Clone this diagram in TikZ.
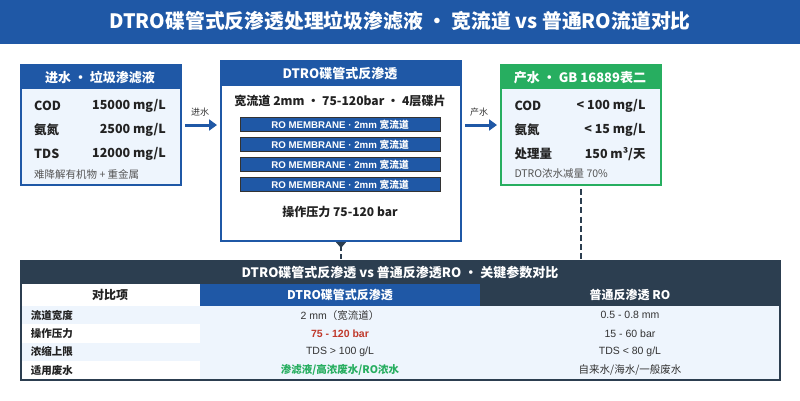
\documentclass[tikz,border=0pt]{standalone}
\usepackage{fontspec}
\setmainfont{Noto Sans CJK SC}
\newfontfamily\arial{Liberation Sans}
\usetikzlibrary{arrows.meta}
\definecolor{bblue}{HTML}{1F58A6}
\definecolor{ggreen}{HTML}{27AE60}
\definecolor{dslate}{HTML}{2C3E50}
\definecolor{lfill}{HTML}{EEF5FD}
\definecolor{txt}{HTML}{222222}
\definecolor{gtxt}{HTML}{555555}
\definecolor{vtxt}{HTML}{333333}
\definecolor{rred}{HTML}{C0392B}
\newcommand\fsz[1]{\fontsize{#1}{#1}\selectfont}
\tikzset{
  panel/.style={draw=#1, line width=2pt, anchor=north west, inner sep=0pt},
  rowlab/.style={anchor=west, text=txt, font=\fsz{12.5}\bfseries, inner sep=0pt},
  rowval/.style={anchor=east, text=txt, font=\fsz{12.5}\bfseries, inner sep=0pt},
  note/.style={anchor=west, text=gtxt, font=\fsz{10.5}, inner sep=0pt},
  hdr/.style={text=white, font=\fsz{13}\bfseries, inner sep=0pt},
  membr/.style={fill=bblue, draw=vtxt, line width=1pt, minimum width=200pt, minimum height=14pt, inner sep=0pt, text=white, font=\fsz{9.7}\bfseries},
  conn/.style={bblue, line width=3pt, -{Triangle[length=8pt,width=11pt]}, shorten <=3pt, shorten >=3pt},
  clab/.style={text=vtxt, font=\fsz{9}, inner sep=0pt},
  tlab/.style={anchor=west, text=txt, font=\fsz{10.5}\bfseries, inner sep=0pt},
  tval/.style={text=vtxt, font=\fsz{10.5}, inner sep=0pt},
  dashconn/.style={dslate, line width=2pt}
}
\begin{document}
\begin{tikzpicture}[x=1pt,y=-1pt]
\useasboundingbox (0,0) rectangle (800,400);
\fill[white] (0,0) rectangle (800,400);
% title bar
\fill[bblue] (0,0) rectangle (800,44);
\node[text=white, font=\fsz{19.8}\bfseries, inner sep=0pt] (title) at (400,21) {DTRO碟管式反渗透处理垃圾渗滤液 · 宽流道 vs 普通RO流道对比};

% input box
\node[panel=bblue, fill=lfill, minimum width=160pt, minimum height=120pt] (inbox) at (20,64) {};
\fill[bblue] (20,64) rectangle (180,89);
\node[hdr] (inhdr) at (100,77.5) {进水 · 垃圾渗滤液};
\node[rowlab] (in1l) at (34,105.7) {COD};
\node[rowval] (in1v) at (166,105.7) {15000 mg/L};
\node[rowlab] (in2l) at (34,129.5) {氨氮};
\node[rowval] (in2v) at (166,129.5) {2500 mg/L};
\node[rowlab] (in3l) at (34,153.7) {TDS};
\node[rowval] (in3v) at (166,153.7) {12000 mg/L};
\node[note] (innote) at (34,174) {难降解有机物 + 重金属};

% middle box
\node[panel=bblue, fill=white, minimum width=240pt, minimum height=180pt] (mid) at (220,60) {};
\fill[bblue] (220,60) rectangle (460,86);
\node[hdr] (midhdr) at (340,74) {DTRO碟管式反渗透};
\node[text=txt, font=\fsz{12.1}\bfseries, inner sep=0pt] (midsub) at (340,100.5) {宽流道 2mm · 75-120bar · 4层碟片};
\node[membr] (m1) at (340,124.8) {{\arial\bfseries RO MEMBRANE · 2mm }宽流道};
\node[membr] (m2) at (340,144.8) {{\arial\bfseries RO MEMBRANE · 2mm }宽流道};
\node[membr] (m3) at (340,164.8) {{\arial\bfseries RO MEMBRANE · 2mm }宽流道};
\node[membr] (m4) at (340,184.8) {{\arial\bfseries RO MEMBRANE · 2mm }宽流道};
\node[text=txt, font=\fsz{12}\bfseries, inner sep=0pt] (midp) at (340,211.7) {操作压力 75-120 bar};

% output box
\node[panel=ggreen, fill=lfill, minimum width=160pt, minimum height=120pt] (outbox) at (500,64) {};
\fill[ggreen] (500,64) rectangle (660,89);
\node[hdr] (outhdr) at (580,78) {产水 · GB 16889表二};
\node[rowlab] (o1l) at (514.3,105.7) {COD};
\node[rowval] (o1v) at (645.7,105.7) {< 100 mg/L};
\node[rowlab] (o2l) at (514.3,129.5) {氨氮};
\node[rowval] (o2v) at (645.7,129.5) {< 15 mg/L};
\node[rowlab] (o3l) at (514.3,153.7) {处理量};
\node[rowval] (o3v) at (645.7,153.7) {150 m³/天};
\node[note] (onote) at (514.3,174) {DTRO浓水减量 70\%};

% arrows
\draw[conn] (inbox.east) -- (inbox.east -| mid.west);
\node[clab] (inlab) at (200,111.7) {进水};
\draw[conn] (mid.east |- outbox.west) -- (outbox.west);
\node[clab] (outlab) at (479,111.7) {产水};

% table
\fill[lfill] (20,260) rectangle (779,379);
\fill[dslate] (20,260) rectangle (779,284);
\fill[white] (20,284) rectangle (200,306);
\fill[bblue] (200,284) rectangle (480,306);
\fill[dslate] (480,284) rectangle (779,306);
\fill[white] (20,324.3) rectangle (200,342.7);
\fill[white] (20,361) rectangle (200,379);
\node[panel=dslate, minimum width=759pt, minimum height=119pt] (tbl) at (20,260) {};
\node[hdr] (ttitle) at (400,273) {DTRO碟管式反渗透 vs 普通反渗透RO · 关键参数对比};
\node[text=txt, font=\fsz{12}\bfseries, inner sep=0pt] (th1) at (110,295) {对比项};
\node[text=white, font=\fsz{12}\bfseries, inner sep=0pt] (th2) at (340,295) {DTRO碟管式反渗透};
\node[text=white, font=\fsz{12}\bfseries, inner sep=0pt] (th3) at (630,295) {普通反渗透 RO};
\node[tlab] (r1) at (30.7,315.2) {流道宽度};
\node[tlab] (r2) at (30.7,333.5) {操作压力};
\node[tlab] (r3) at (30.7,351.8) {浓缩上限};
\node[tlab] (r4) at (30.7,370.2) {适用废水};
\node[tval] (r1a) at (340,315.2) {{\arial 2 mm}（宽流道）};
\node[tval, text=rred, font=\fsz{10.5}\arial\bfseries] (r2a) at (340,333.5) {75 - 120 bar};
\node[tval, font=\fsz{10.5}\arial] (r3a) at (340,351.8) {TDS > 100 g/L};
\node[tval, text=ggreen, font=\fsz{10.5}\bfseries] (r4a) at (340,370.2) {渗滤液/高浓废水/RO浓水};
\node[tval, font=\fsz{10.5}\arial] (r1b) at (630,315.2) {0.5 - 0.8 mm};
\node[tval, font=\fsz{10.5}\arial] (r2b) at (630,333.5) {15 - 60 bar};
\node[tval, font=\fsz{10.5}\arial] (r3b) at (630,351.8) {TDS < 80 g/L};
\node[tval] (r4b) at (630,370.2) {自来水/海水/一般废水};

% dashed links
\draw[dashconn, dash pattern=on 5pt off 3pt, {Triangle[reversed,length=6pt,width=10pt]}-] (mid.south) -- (mid.south |- tbl.north);
\draw[dashconn, dash pattern=on 6pt off 3.2pt, shorten <=3pt] (outbox.south) -- (outbox.south |- tbl.north);
\end{tikzpicture}
\end{document}
